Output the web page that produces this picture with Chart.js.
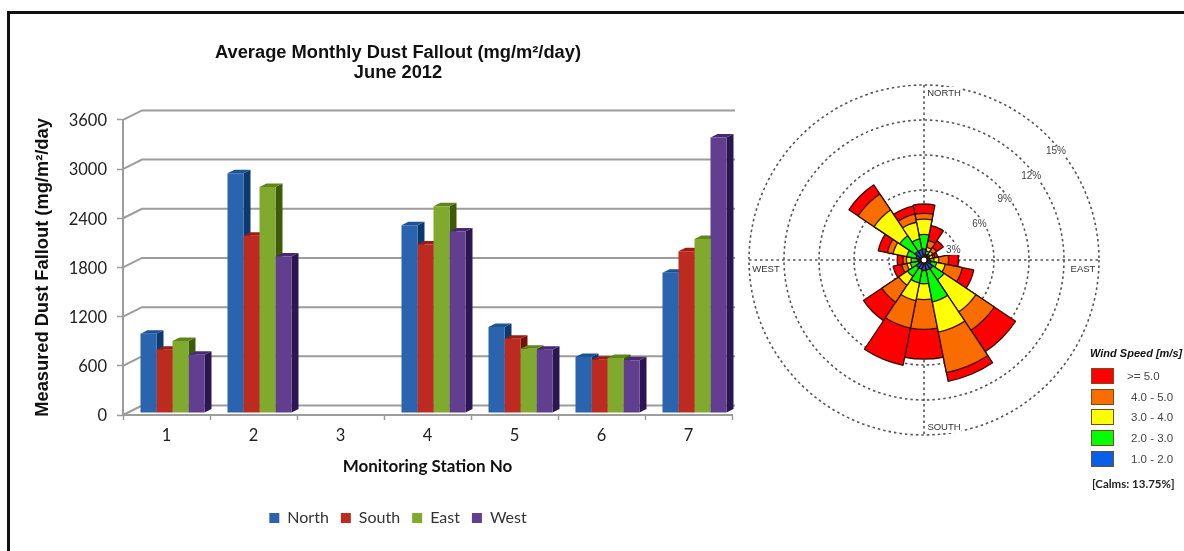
<!DOCTYPE html>
<html>
<head>
<meta charset="utf-8">
<title>Average Monthly Dust Fallout</title>
<script src="https://cdn.jsdelivr.net/npm/chart.js@4/dist/chart.umd.min.js"></script>
<style>
    html, body { margin: 0; padding: 0; background: #fff; }
    #page { position: relative; width: 1184px; height: 551px; overflow: hidden; background: #fff; }
    #frame { position: absolute; left: 7px; top: 11px; right: 0; bottom: 0; border-top: 3px solid #111; border-left: 3px solid #111; }
    #dust { position: absolute; left: 0; top: 0; }
    #rose { position: absolute; left: 745px; top: 81px; }
    #windLegend { position: absolute; left: 1090px; top: 346px; width: 94px; font-family: "Liberation Sans", Arial, sans-serif; color: #444; white-space: nowrap; }
    #windLegend .head { font: italic bold 11px "Liberation Sans", Arial, sans-serif; color: #111; height: 14px; line-height: 14px; margin-bottom: 8px; }
    #windLegend .row { position: relative; height: 16px; margin-bottom: 4.7px; }
    #windLegend .swatch { position: absolute; left: 1px; top: 0; width: 21px; height: 14px; border: 1px solid #7a4a20; }
    #windLegend .range { position: absolute; top: 1px; font-size: 11.5px; line-height: 14px; }
    #windLegend .calms { font: bold 11.5px "Lato", sans-serif; color: #222; margin-top: 10px; padding-left: 2px; }
</style>
</head>
<body>
<div id="page">
    <div id="frame"></div>
    <canvas id="dust" width="796" height="551"></canvas>
    <canvas id="rose" width="358" height="358"></canvas>
    <div id="windLegend"></div>
</div>
<script>
// Dust fallout per monitoring station, mg/m2/day
const stations = ['1', '2', '3', '4', '5', '6', '7'];
const north = [967, 2924, null, 2290, 1048, 682, 1710];
const south = [772, 2161, null, 2055, 906, 650, 1973];
const east = [877, 2758, null, 2522, 785, 670, 2124];
const west = [711, 1909, null, 2213, 772, 642, 3362];

// Wind rose sectors clockwise from north. Each list is the running
// percentage up to the top of that speed band.
const sectors = ['N', 'NNE', 'NE', 'ENE', 'E', 'ESE', 'SE', 'SSE', 'S', 'SSW', 'SW', 'WSW', 'W', 'WNW', 'NW', 'NNW'];
const upTo2 = [0.95, 0.5, 0.4, 0.3, 0.5, 0.6, 0.9, 0.9, 0.9, 0.8, 0.8, 0.5, 0.5, 0.7, 0.9, 0.9];
const upTo3 = [2.2, 0.8, 0.6, 0.5, 0.85, 1.1, 2.05, 3.65, 2.05, 2.0, 1.7, 1.2, 1.1, 1.5, 2.5, 1.85];
const upTo4 = [3.5, 1.1, 0.9, 0.8, 1.25, 1.85, 5.35, 6.3, 3.4, 3.55, 2.6, 1.5, 1.5, 2.7, 5.15, 3.3];
const upTo5 = [4.0, 1.7, 1.3, 0.95, 2.1, 3.35, 7.25, 9.85, 5.95, 5.95, 4.35, 1.95, 1.8, 3.2, 6.8, 4.0];
const allSpeeds = [4.8, 3.0, 2.0, 1.2, 2.95, 4.35, 9.45, 10.6, 8.5, 9.2, 6.25, 2.7, 2.3, 4.0, 7.75, 4.7];

const percentTicks = ['3%', '6%', '9%', '12%', '15%'];
const speedBands = ['>= 5.0', '4.0 - 5.0', '3.0 - 4.0', '2.0 - 3.0', '1.0 - 2.0'];
const speedColors = ['#ff0000', '#f96c00', '#ffff00', '#00ff00', '#0a5fe8'];
const calmsNote = '[Calms: 13.75%]';

const frontColors = ['#2a63ae', '#bd2a20', '#80aa2e', '#623e90'];
const sideColors = ['#0c3a6e', '#760f08', '#3e5c08', '#2a1650'];
const topColors = ['#1c5296', '#9c1c12', '#5f8618', '#472a72'];

const GRID_GREY = '#9c9c9c';
const WALL_DX = 19, WALL_DY = -9.5;   // back wall offset from the front axis
const BAR_DX = 7, BAR_DY = -3.5;      // depth of a single bar
const BAR_SHIFT_X = 6, BAR_SHIFT_Y = -2;

const boxPlugin = {
    id: 'box3d',
    beforeDatasetsDraw(chart) {
        const { ctx, chartArea, scales } = chart;
        ctx.save();
        ctx.strokeStyle = GRID_GREY;
        ctx.lineWidth = 2;
        scales.y.ticks.forEach(t => {
            const y = scales.y.getPixelForValue(t.value);
            ctx.beginPath();
            ctx.moveTo(chartArea.left, y);
            ctx.lineTo(chartArea.left + WALL_DX, y + WALL_DY);
            ctx.lineTo(chartArea.right + 3, y + WALL_DY);
            ctx.stroke();
        });
        ctx.restore();

        // left in place until afterDatasetsDraw so the faces get the same shift
        ctx.save();
        ctx.translate(BAR_SHIFT_X, BAR_SHIFT_Y);
        stations.forEach((s, i) => {
            chart.data.datasets.forEach((ds, d) => {
                const bar = chart.getDatasetMeta(d).data[i];
                if (ds.data[i] === null || !bar) return;
                const l = bar.x - bar.width / 2, r = bar.x + bar.width / 2;
                ctx.fillStyle = sideColors[d];
                ctx.beginPath();
                ctx.moveTo(r, bar.y);
                ctx.lineTo(r + BAR_DX, bar.y + BAR_DY);
                ctx.lineTo(r + BAR_DX, bar.base + BAR_DY);
                ctx.lineTo(r, bar.base);
                ctx.fill();
                ctx.fillStyle = topColors[d];
                ctx.beginPath();
                ctx.moveTo(l, bar.y);
                ctx.lineTo(l + BAR_DX, bar.y + BAR_DY);
                ctx.lineTo(r + BAR_DX, bar.y + BAR_DY);
                ctx.lineTo(r, bar.y);
                ctx.fill();
            });
        });
    },
    afterDatasetsDraw(chart) {
        chart.ctx.restore();
    }
};

new Chart(document.getElementById('dust'), {
    type: 'bar',
    plugins: [boxPlugin],
    data: {
        labels: stations,
        datasets: [
            { label: 'North', data: north, backgroundColor: frontColors[0] },
            { label: 'South', data: south, backgroundColor: frontColors[1] },
            { label: 'East', data: east, backgroundColor: frontColors[2] },
            { label: 'West', data: west, backgroundColor: frontColors[3] }
        ]
    },
    options: {
        responsive: false,
        animation: false,
        categoryPercentage: 0.7356,
        barPercentage: 1,
        layout: { padding: { top: 43, right: 0, bottom: 15, left: 0 } },
        plugins: {
            tooltip: { enabled: false },
            title: {
                display: true,
                text: ['Average Monthly Dust Fallout (mg/m²/day)', 'June 2012'],
                color: '#111',
                font: { family: '"Liberation Sans", Arial, sans-serif', size: 18.3, weight: 'bold', lineHeight: 1.09 },
                padding: { top: 0, bottom: 37 }
            },
            legend: {
                position: 'bottom',
                labels: {
                    boxWidth: 10,
                    boxHeight: 10,
                    padding: 12,
                    color: '#333',
                    font: { family: 'Lato, sans-serif', size: 16 }
                }
            }
        },
        scales: {
            x: {
                offset: true,
                afterFit(scale) { scale.height = 83; },
                border: { color: GRID_GREY, width: 2 },
                grid: { drawOnChartArea: false, color: GRID_GREY, offset: true, tickLength: 5, tickWidth: 1.5 },
                ticks: { color: '#222', padding: 6, font: { family: 'Lato, sans-serif', size: 16.5 } },
                title: {
                    display: true,
                    text: 'Monitoring Station No',
                    color: '#111',
                    padding: { top: 0, bottom: 21 },
                    font: { family: 'Lato, sans-serif', size: 17, weight: 'bold' }
                }
            },
            y: {
                min: 0,
                max: 3600,
                afterFit(scale) { scale.width = 123; },
                border: { color: GRID_GREY, width: 2 },
                grid: { drawOnChartArea: false, color: GRID_GREY, tickLength: 6, tickWidth: 1.5 },
                ticks: {
                    stepSize: 600,
                    color: '#222',
                    padding: 10,
                    labelOffset: 1,
                    callback: v => String(v),
                    font: { family: 'Lato, sans-serif', size: 16.5 }
                },
                title: {
                    display: true,
                    text: 'Measured Dust Fallout (mg/m²/day',
                    color: '#111',
                    padding: { top: 32, bottom: 0 },
                    font: { family: '"Liberation Sans", Arial, sans-serif', size: 18.3, weight: 'bold' }
                }
            },
            // blank gutter on the right, keeps the title and legend centred over the whole canvas
            gutter: {
                type: 'linear',
                position: 'right',
                afterFit(scale) { scale.width = 64; },
                border: { display: false },
                grid: { display: false, drawTicks: false },
                ticks: { display: false }
            }
        }
    }
});

// Cross through the rose, compass names and the percent labels on the rings
const compassPlugin = {
    id: 'compass',
    beforeDatasetsDraw(chart) {
        const { ctx } = chart;
        const r = chart.scales.r;
        const R = r.drawingArea;
        ctx.save();
        ctx.strokeStyle = '#555';
        ctx.lineWidth = 1.6;
        ctx.setLineDash([2.5, 3]);
        ctx.beginPath();
        ctx.moveTo(r.xCenter, r.yCenter - R);
        ctx.lineTo(r.xCenter, r.yCenter + R);
        ctx.moveTo(r.xCenter - R, r.yCenter);
        ctx.lineTo(r.xCenter + R, r.yCenter);
        ctx.stroke();
        ctx.restore();
    },
    afterDatasetsDraw(chart) {
        const { ctx } = chart;
        const r = chart.scales.r;
        const R = r.drawingArea;
        ctx.save();
        // calm hole in the middle
        ctx.beginPath();
        ctx.arc(r.xCenter, r.yCenter, 3, 0, Math.PI * 2);
        ctx.fillStyle = '#fff';
        ctx.fill();
        ctx.strokeStyle = '#111';
        ctx.lineWidth = 1;
        ctx.stroke();

        ctx.font = '9.5px "Liberation Sans", Arial, sans-serif';
        ctx.textAlign = 'center';
        ctx.textBaseline = 'middle';
        const names = [
            ['NORTH', 20, -R + 8],
            ['SOUTH', 20, R - 8],
            ['WEST', -R + 17, 9],
            ['EAST', R - 16, 9]
        ];
        names.forEach(([txt, dx, dy]) => {
            const w = ctx.measureText(txt).width;
            ctx.fillStyle = '#fff';
            ctx.fillRect(r.xCenter + dx - w / 2 - 1, r.yCenter + dy - 6, w + 2, 12);
            ctx.fillStyle = '#333';
            ctx.fillText(txt, r.xCenter + dx, r.yCenter + dy);
        });

        // label angle measured from east, the inner ones drift off the diagonal
        ctx.font = '10px "Liberation Sans", Arial, sans-serif';
        const labelAngles = [19, 33, 37, 38, 39.5];
        percentTicks.forEach((txt, i) => {
            const dist = r.getDistanceFromCenterForValue((i + 1) * 3) - 4;
            const a = labelAngles[i] * Math.PI / 180;
            const x = r.xCenter + Math.cos(a) * dist;
            const y = r.yCenter - Math.sin(a) * dist;
            const w = ctx.measureText(txt).width;
            ctx.fillStyle = '#fff';
            ctx.fillRect(x - w / 2, y - 5, w, 10);
            ctx.fillStyle = '#444';
            ctx.fillText(txt, x, y);
        });
        ctx.restore();
    }
};

const wedgeBorder = 'rgba(45, 8, 0, 0.95)';
const wedgeLine = 1.3;

new Chart(document.getElementById('rose'), {
    type: 'polarArea',
    plugins: [compassPlugin],
    data: {
        labels: sectors,
        // first dataset is painted last, so the shortest band sits on top
        datasets: [
            { label: speedBands[4], data: upTo2, backgroundColor: speedColors[4], borderColor: wedgeBorder, borderWidth: wedgeLine },
            { label: speedBands[3], data: upTo3, backgroundColor: speedColors[3], borderColor: wedgeBorder, borderWidth: wedgeLine },
            { label: speedBands[2], data: upTo4, backgroundColor: speedColors[2], borderColor: wedgeBorder, borderWidth: wedgeLine },
            { label: speedBands[1], data: upTo5, backgroundColor: speedColors[1], borderColor: wedgeBorder, borderWidth: wedgeLine },
            { label: speedBands[0], data: allSpeeds, backgroundColor: speedColors[0], borderColor: wedgeBorder, borderWidth: wedgeLine }
        ]
    },
    options: {
        responsive: false,
        animation: false,
        layout: { padding: 4 },
        plugins: { legend: { display: false }, tooltip: { enabled: false } },
        scales: {
            r: {
                min: 0,
                max: 15,
                startAngle: -11.25,
                ticks: { display: false, stepSize: 3 },
                grid: { circular: true, color: '#555', lineWidth: 1.6 },
                border: { dash: [2.5, 3] }
            }
        }
    }
});

// Speed key beside the rose
const windLegend = document.getElementById('windLegend');
let keyHtml = '<div class="head">Wind Speed [m/s]</div>';
speedBands.forEach((band, i) => {
    keyHtml += '<div class="row"><span class="swatch" style="background:' + speedColors[i] + '"></span>' +
        '<span class="range" style="left:' + (i === 0 ? 37 : 41) + 'px">' + band.replace('>', '&gt;') + '</span></div>';
});
keyHtml += '<div class="calms">' + calmsNote + '</div>';
windLegend.innerHTML = keyHtml;
</script>
</body>
</html>
